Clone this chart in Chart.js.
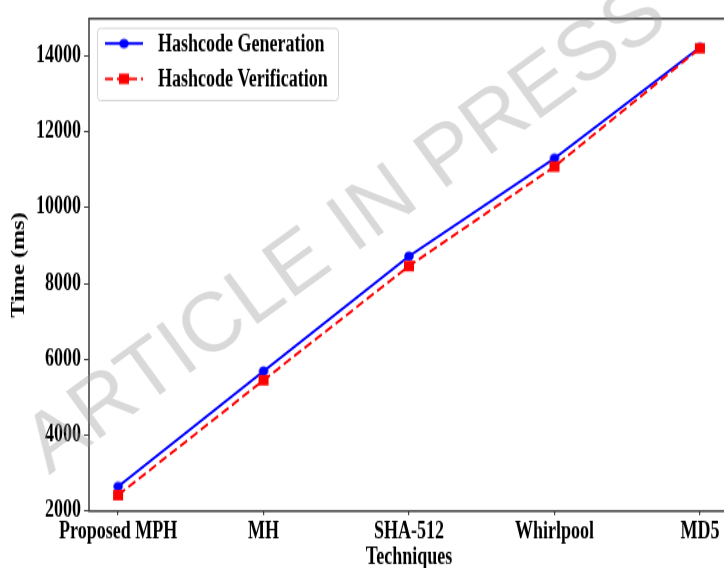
<!DOCTYPE html>
<html>
<head>
<meta charset="utf-8">
<script src="https://cdn.jsdelivr.net/npm/chart.js@4.4.1/dist/chart.umd.min.js"></script>
<style>
  html, body { margin: 0; padding: 0; background: #fff; overflow: hidden; width: 724px; height: 568px; }
  #page { position: relative; width: 724px; height: 568px; overflow: hidden; }
  #wrap { position: absolute; left: 0; top: 0; width: 736px; height: 424px; transform-origin: 0 0; transform: scaleY(1.3492); }
  canvas { display: block; }
  #wm { position: absolute; left: 343px; top: 226px; transform: translate(-50%, -50%) rotate(-36deg);
        font-family: 'Liberation Sans', Arial, sans-serif; font-size: 84px; line-height: 1; white-space: nowrap;
        color: rgba(150,150,150,0.36); pointer-events: none; }
</style>
</head>
<body>
<div id="page">
  <div id="wrap"><canvas id="c" width="736" height="424"></canvas></div>
  <div id="wm"></div>
</div>
<script>
const categories = ["Proposed MPH", "MH", "SHA-512", "Whirlpool", "MD5"];
const generation = [2650, 5690, 8720, 11300, 14220];
const verification = [2420, 5450, 8460, 11080, 14200];
const seriesNames = ["Hashcode Generation", "Hashcode Verification"];
const yTicks = [2000, 4000, 6000, 8000, 10000, 12000, 14000];
const xTitle = "Techniques";
const yTitle = "Time (ms)";
const watermark = "ARTICLE IN PRESS";

document.getElementById('wm').textContent = watermark;

const FONT = "'Liberation Serif', 'Times New Roman', serif";
const SY = 1.3492; // vertical stretch of the original figure

function makeMarker(kind, color) {
  const w = 12, h = 10;
  const cv = document.createElement('canvas');
  cv.width = w; cv.height = h;
  const g = cv.getContext('2d');
  g.fillStyle = color;
  if (kind === 'circle') {
    g.beginPath(); g.ellipse(w / 2, h / 2, 4.8, 4.8 / SY, 0, 0, Math.PI * 2); g.fill();
  } else {
    const sw = 10, sh = 10.5 / SY;
    g.fillRect((w - sw) / 2, (h - sh) / 2, sw, sh);
  }
  return cv;
}
const blueMarker = makeMarker('circle', '#0000ff');
const redMarker = makeMarker('rect', '#ff0000');

const framePlugin = {
  id: 'frame',
  afterDatasetsDraw(chart) {
    const ctx = chart.ctx, a = chart.chartArea;
    ctx.save();
    ctx.strokeStyle = '#3a3a3a';
    ctx.lineWidth = 1.5;
    ctx.strokeRect(a.left, a.top, a.right - a.left, a.bottom - a.top);
    // legend
    const lx = 97.5, ly = 21, lw = 241, lh = 53.5, r = 3;
    ctx.fillStyle = 'rgba(255,255,255,0.85)';
    ctx.strokeStyle = '#d4d4d4';
    ctx.lineWidth = 1;
    ctx.beginPath();
    ctx.roundRect(lx, ly, lw, lh, r);
    ctx.fill(); ctx.stroke();
    const items = [
      {name: seriesNames[0], color: '#0000ff', dash: [], y: 32.3, m: blueMarker},
      {name: seriesNames[1], color: '#ff0000', dash: [8, 4], y: 58.4, m: redMarker}
    ];
    items.forEach(it => {
      ctx.strokeStyle = it.color;
      ctx.lineWidth = 2; ctx.setLineDash(it.dash);
      ctx.beginPath(); ctx.moveTo(105, it.y); ctx.lineTo(143, it.y); ctx.stroke();
      ctx.setLineDash([]);
      ctx.drawImage(it.m, 124 - it.m.width / 2, it.y - it.m.height / 2);
      ctx.fillStyle = '#000';
      ctx.font = "bold 18px " + FONT;
      ctx.textBaseline = 'middle';
      ctx.fillText(it.name, 158, it.y + 1);
    });
    ctx.restore();
  }
};

new Chart(document.getElementById('c'), {
  type: 'line',
  data: {
    datasets: [
      {
        label: seriesNames[0],
        data: generation.map((v, i) => ({x: i, y: v})),
        borderColor: '#0000ff', backgroundColor: '#0000ff',
        borderWidth: 2, pointStyle: blueMarker, pointRadius: 5, pointHoverRadius: 5,
        tension: 0, order: 1
      },
      {
        label: seriesNames[1],
        data: verification.map((v, i) => ({x: i, y: v})),
        borderColor: '#ff0000', backgroundColor: '#ff0000',
        borderWidth: 2, borderDash: [8, 4], pointStyle: redMarker, pointRadius: 5, pointHoverRadius: 5,
        tension: 0, order: 0
      }
    ]
  },
  options: {
    responsive: false,
    animation: false,
    events: [],
    layout: { padding: { left: 0, top: 11.1, right: 6, bottom: 0 } },
    plugins: { legend: { display: false }, tooltip: { enabled: false } },
    scales: {
      x: {
        type: 'linear', min: -0.2, max: 4.2,
        afterBuildTicks: s => { s.ticks = categories.map((c, i) => ({value: i})); },
        afterFit: s => { s.height = 424 - 378.8; },
        ticks: {
          callback: v => categories[v] ?? '',
          color: '#000', font: { family: FONT, size: 18, weight: 'bold' },
          padding: 2, maxRotation: 0, autoSkip: false
        },
        grid: { drawOnChartArea: false, drawTicks: true, tickLength: 3, color: '#3a3a3a', lineWidth: 1.2 },
        border: { display: false },
        title: { display: true, text: xTitle, color: '#000', font: { family: FONT, size: 18, weight: 'bold' }, padding: { top: 0, bottom: 0 } }
      },
      y: {
        type: 'linear', min: 2000, max: 14980,
        afterBuildTicks: s => { s.ticks = yTicks.map(v => ({value: v})); },
        afterFit: s => { s.width = 89; },
        ticks: {
          color: '#000', font: { family: FONT, size: 18, weight: 'bold' }, padding: 3,
          callback: v => String(v)
        },
        grid: { drawOnChartArea: false, drawTicks: true, tickLength: 5, color: '#3a3a3a', lineWidth: 1 },
        border: { display: false },
        title: { display: true, text: yTitle, color: '#000', font: { family: FONT, size: 18, weight: 'bold' }, padding: { top: 9, bottom: 0 } }
      }
    }
  },
  plugins: [framePlugin]
});
</script>
</body>
</html>
